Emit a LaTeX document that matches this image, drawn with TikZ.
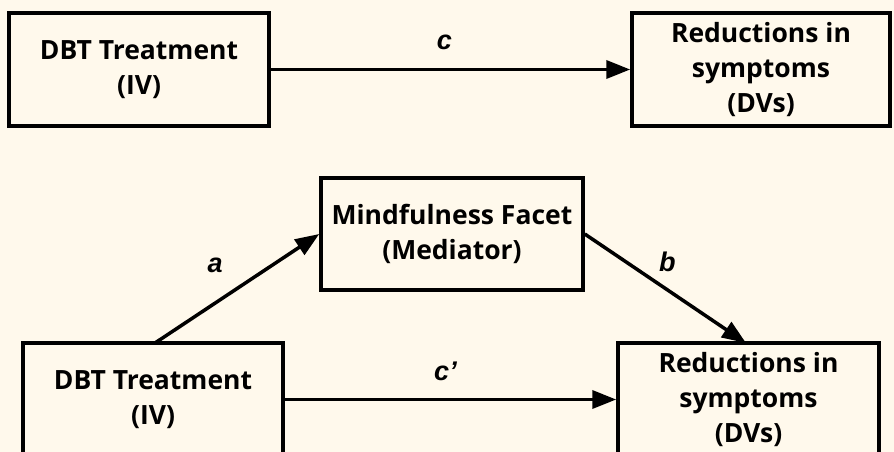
\documentclass[tikz,border=0pt]{standalone}
\usepackage{fontspec}
\setmainfont{Open Sans}
\newfontfamily\lblfont{Liberation Sans}
\usetikzlibrary{arrows.meta}
\definecolor{bg}{HTML}{FFF9EC}
\tikzset{
  box/.style={draw=black, line width=3.5pt, fill=bg, inner sep=0pt, align=center,
    font=\fontsize{26.5}{35}\selectfont\bfseries},
  conn/.style={line width=3.5pt, -{Triangle[length=24pt,width=18pt]}},
  lbl/.style={font=\lblfont\fontsize{27}{30}\selectfont\bfseries\itshape}
}
\begin{document}
\begin{tikzpicture}[x=1pt,y=-1pt]
\useasboundingbox (0,0) rectangle (894,452);
\fill[bg] (0,0) rectangle (894,452);
\clip (0,0) rectangle (894,452);
% top row
\node[box, minimum width=260pt, minimum height=113pt] (iv1) at (139,69.5) {DBT Treatment\\(IV)};
\node[box, minimum width=258pt, minimum height=113pt] (dv1) at (761,69.5) {Reductions in\\symptoms\\(DVs)};
\draw[conn] (iv1.east) -- (dv1.west) node[lbl, midway, xshift=-6pt, yshift=27pt] {c};
% bottom row
\node[box, minimum width=262pt, minimum height=112pt] (med) at (452,234) {Mindfulness Facet\\(Mediator)};
\node[box, minimum width=260pt, minimum height=113pt] (iv2) at (153,399.5) {DBT Treatment\\(IV)};
\node[box, minimum width=261pt, minimum height=113pt] (dv2) at (748.5,399.5) {Reductions in\\symptoms\\(DVs)};
\coordinate (aS) at (155,343);
\coordinate (bE) at (746,343);
\draw[conn] (aS) -- (med.west) node[lbl, midway, xshift=-22pt, yshift=23pt] {a};
\draw[conn] (med.east) -- (bE) node[lbl, midway, xshift=2pt, yshift=27pt] {b};
\draw[conn] (iv2.east) -- (dv2.west) node[lbl, midway, xshift=-5pt, yshift=28pt] {c’};
\end{tikzpicture}
\end{document}
